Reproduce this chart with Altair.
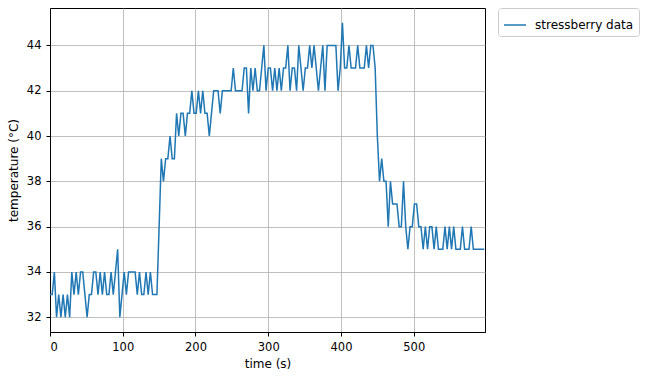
import altair as alt
import pandas as pd

# temperature readings, one every 3 s
temps_a = [33, 33, 34, 32, 33, 32, 33, 32, 33, 32, 34, 33, 34, 33, 34, 34, 33, 32, 33, 33,
           34, 34, 33, 34, 33, 34, 33, 33, 34, 33, 34, 35, 32, 33, 34, 33, 34, 34, 34, 34,
           33, 34, 33, 33, 34, 33, 34, 33, 33, 33]
temps_b = [36, 39, 38, 39, 39, 40, 39, 39, 41, 40, 41, 41, 40, 41, 41, 42, 41, 41, 42, 41,
           42, 41, 41, 40, 41, 42, 42, 42, 41, 42, 42, 42, 42, 42, 43, 42, 42, 42, 42, 43,
           43, 41, 43, 42, 43, 42, 42, 43, 44, 42]
temps_c = [43, 43, 42, 43, 42, 43, 42, 43, 43, 44, 42, 43, 43, 42, 44, 43, 42, 43, 43, 44,
           43, 44, 43, 42, 43, 44, 42, 44, 44, 44, 44, 44, 42, 43, 45, 43, 43, 44, 43, 43,
           43, 44, 43, 43, 43, 44, 43, 44, 44, 43]
temps_d = [40, 38, 39, 38, 38, 36, 38, 37, 37, 37, 36, 36, 38, 36, 35, 36, 36, 37, 37, 36,
           36, 35, 36, 35, 36, 36, 35, 36, 35, 35, 35, 36, 35, 36, 35, 36, 35, 35, 35, 36,
           35, 35, 35, 36, 35, 35, 35, 35, 35, 35]
temps = temps_a + temps_b + temps_c + temps_d
times = [3 * i for i in range(len(temps))]
series = ["stressberry data"] * len(temps)

df = pd.DataFrame({"time": times, "temp": temps, "series": series})

font = "DejaVu Sans"

chart = alt.Chart(df).mark_line(strokeWidth=1.5, clip=True).encode(
    x=alt.X("time:Q",
            scale=alt.Scale(domain=[0, 598], nice=False, zero=False),
            axis=alt.Axis(title="time (s)", values=[0, 100, 200, 300, 400, 500],
                          format="d", titlePadding=6, labelPadding=5)),
    y=alt.Y("temp:Q",
            scale=alt.Scale(domain=[31.35, 45.65], nice=False, zero=False),
            axis=alt.Axis(title="temperature (°C)", values=[32, 34, 36, 38, 40, 42, 44],
                          format="d", titlePadding=6, labelPadding=5)),
    color=alt.Color("series:N",
                    scale=alt.Scale(range=["#1f77b4"]),
                    legend=alt.Legend(title=None, orient="none", legendX=448, legendY=0,
                                      symbolType="stroke", symbolSize=484,
                                      symbolStrokeWidth=1.5,
                                      strokeColor="#cccccc", fillColor="white",
                                      cornerRadius=3, padding=5,
                                      labelFontSize=12, labelFont=font,
                                      labelColor="black", labelOffset=8)),
).properties(
    width=435, height=324,
    autosize=alt.AutoSizeParams(type="none"),
    padding={"left": 50, "top": 8, "right": 165, "bottom": 46},
).configure_view(
    stroke="black", strokeWidth=1
).configure_axis(
    domainColor="black", tickColor="black", tickSize=4,
    gridColor="#b0b0b0", gridWidth=0.8,
    labelFont=font, labelFontSize=11.5, labelColor="black",
    titleFont=font, titleFontSize=12, titleColor="black", titleFontWeight="normal",
)

chart.save("out.html", embed_options={"renderer": "svg", "actions": False})
